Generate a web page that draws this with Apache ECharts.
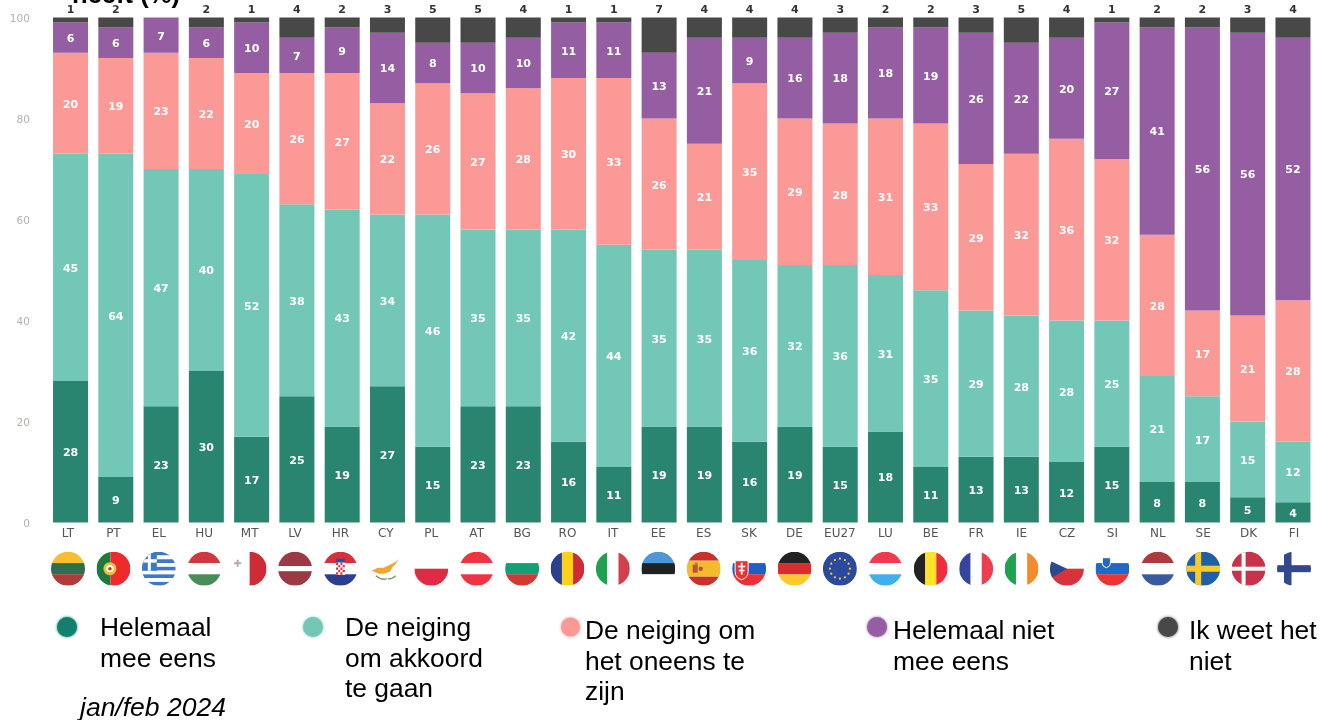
<!DOCTYPE html>
<html><head><meta charset="utf-8">
<style>html,body{margin:0;padding:0;background:#fff}#c{width:1320px;height:720px}</style>
<script src="https://cdn.jsdelivr.net/npm/echarts@6/dist/echarts.min.js"></script>
</head><body><div id="c"></div>
<script>
const categories = ['LT','PT','EL','HU','MT','LV','HR','CY','PL','AT','BG','RO','IT','EE','ES','SK','DE','EU27','LU','BE','FR','IE','CZ','SI','NL','SE','DK','FI'];
const helemaalEens = [28,9,23,30,17,25,19,27,15,23,23,16,11,19,19,16,19,15,18,11,13,13,12,15,8,8,5,4];
const neigingAkkoord = [45,64,47,40,52,38,43,34,46,35,35,42,44,35,35,36,32,36,31,35,29,28,28,25,21,17,15,12];
const neigingOneens = [20,19,23,22,20,26,27,22,26,27,28,30,33,26,21,35,29,28,31,33,29,32,36,32,28,17,21,28];
const helemaalNiet = [6,6,7,6,10,7,9,14,8,10,10,11,11,13,21,9,16,18,18,19,26,22,20,27,41,56,56,52];
const weetNiet = [1,2,0,2,1,4,2,3,5,5,4,1,1,7,4,4,4,3,2,2,3,5,4,1,2,2,3,4];
const seriesNames = ['Helemaal mee eens','De neiging om akkoord te gaan','De neiging om het oneens te zijn','Helemaal niet mee eens','Ik weet het niet'];
const seriesLines = [['Helemaal','mee eens'],['De neiging','om akkoord','te gaan'],['De neiging om','het oneens te','zijn'],['Helemaal niet','mee eens'],['Ik weet het','niet']];
const yTicks = [0,20,40,60,80,100];
const titleText = 'heeft (%)';
const dateText = 'jan/feb 2024';

const colors = ['#2a8570','#73c7b7','#fb9996','#955ea3','#484848'];
const legendDots = ['#12806c','#73c7b7','#fb9996','#955ea3','#484848'];

/* Flags, drawn as small round SVG images */
const wrap = s => 'image://data:image/svg+xml;charset=utf-8,' + encodeURIComponent(
  '<svg xmlns="http://www.w3.org/2000/svg" width="68" height="68" viewBox="0 0 34 34"><defs><clipPath id="c"><circle cx="17" cy="17" r="17"/></clipPath></defs><g clip-path="url(#c)">' + s + '</g></svg>');
const R = (x,y,w,h,f) => `<rect x="${x}" y="${y}" width="${w}" height="${h}" fill="${f}"/>`;
const H = (a,b,c,e='') => wrap(R(0,0,34,11.6,a)+R(0,11.4,34,11.4,b)+R(0,22.6,34,11.4,c)+e);
const V = (a,b,c,e='') => wrap(R(0,0,11.6,34,a)+R(11.4,0,11.4,34,b)+R(22.6,0,11.4,34,c)+e);
const W = '#ffffff';
const starRing = [0,30,60,90,120,150,180,210,240,270,300,330].map(d => {
  const a = d*Math.PI/180;
  return `<circle cx="${17+10*Math.cos(a)}" cy="${17+10*Math.sin(a)}" r="1.1" fill="#f5d33a"/>`;
}).join('');
let greekStripes = '';
for (let i = 0; i < 9; i++) greekStripes += R(0, i*34/9, 34, 34/9, i%2 ? W : '#3f78c4');
let crChecks = '';
for (let r = 0; r < 5; r++) for (let q = 0; q < 4; q++) crChecks += R(12.6+q*2.2, 11+r*2.4, 2.2, 2.4, (r+q)%2 ? W : '#d8303a');
const flags = {
  LT: H('#f9bd2f','#2d6e50','#b23a3a'),
  PT: wrap(R(0,0,14,34,'#1e7a3c')+R(14,0,20,34,'#ee2b2b')+'<circle cx="13.5" cy="17" r="6.5" fill="#e8c23a"/><circle cx="13.5" cy="17" r="3.6" fill="#ffffff"/><circle cx="13.5" cy="17" r="1.8" fill="#c8312c"/>'),
  EL: wrap(greekStripes+R(0,0,15,19,'#3f78c4')+R(6,0,3,19,W)+R(0,7.5,15,3.4,W)),
  HU: H('#d0383d',W,'#4a8c57'),
  MT: wrap(R(0,0,17,34,W)+R(17,0,17,34,'#ce2b37')+R(4,8,2,7,'#b9a9a9')+R(1.5,10.5,7,2,'#b9a9a9')),
  LV: wrap(R(0,0,34,14.5,'#9b3a45')+R(0,14.5,34,5,W)+R(0,19.5,34,14.5,'#9b3a45')),
  HR: H('#d8303a',W,'#2a3f8f',R(12.6,7,8.8,4,'#2a4f9f')+R(12.6,11,8.8,12,W)+crChecks),
  CY: wrap(R(0,0,34,34,W)+'<path d="M3 19 L9 16 L15 16 L21 13 L27 10 L30 7 L27 12 L24 15 L21 20 L15 22 L10 22 Z" fill="#f0a632"/><path d="M7 24 Q13 29 18 27" stroke="#7a9a5a" stroke-width="1.3" fill="none"/><path d="M27 24 Q22 28 19 27" stroke="#7a9a5a" stroke-width="1.3" fill="none"/>'),
  PL: wrap(R(0,0,34,17,W)+R(0,17,34,17,'#e12b46')),
  AT: H('#ef3340',W,'#ef3340'),
  BG: H(W,'#13a077','#d03a32'),
  RO: V('#2c3f8f','#fcd116','#ce2b37'),
  IT: V('#1ea24f',W,'#d2404d'),
  EE: H('#4f96d8','#222222',W),
  ES: wrap(R(0,0,34,9,'#c8312c')+R(0,9,34,16,'#f5bb2f')+R(0,25,34,9,'#c8312c')+R(6,13,5,8,'#b5533a')+R(8,11,3,2,'#a5842a')+'<circle cx="14" cy="17" r="2.2" fill="#b5533a"/>'),
  SK: wrap(R(0,0,34,11.6,W)+R(0,11.4,34,11.4,'#1f5fc4')+R(0,22.6,34,11.4,'#ee3033')+'<path d="M3 9 H16 V20 Q16 26 9.5 28 Q3 26 3 20 Z" fill="#ee3033" stroke="#ffffff" stroke-width="1"/>'+R(8.7,11,1.8,12,W)+R(6,14,7.2,1.6,W)+R(6.8,18,5.6,1.6,W)),
  DE: H('#222222','#dd2c2c','#fdc92f'),
  EU27: wrap(R(0,0,34,34,'#2b4a9f')+starRing),
  LU: H('#ef3b4d',W,'#3fb0ea'),
  BE: V('#222222','#fde12d','#ee2e3f'),
  FR: V('#35459e',W,'#ef3d4f'),
  IE: V('#1ea24f',W,'#f58a2c'),
  CZ: wrap(R(0,0,34,17,W)+R(0,17,34,17,'#d8323a')+'<path d="M0 9 L17 17 L0 27 Z" fill="#2a4a8f"/>'),
  SI: wrap(R(0,0,34,11.6,W)+R(0,11.4,34,11.4,'#1e6ac6')+R(0,22.6,34,11.4,'#ee3333')+'<path d="M7 6 H15 V12 Q15 15 11 16 Q7 15 7 12 Z" fill="#1e6ac6" stroke="#ffffff" stroke-width="1"/>'),
  NL: H('#ae3a3f',W,'#3a5aa0'),
  SE: wrap(R(0,0,34,34,'#1e5fa8')+R(9,0,6,34,'#fcc92b')+R(0,14,34,6,'#fcc92b')),
  DK: wrap(R(0,0,34,34,'#c8324a')+R(10,0,4,34,W)+R(0,15,34,4,W)),
  FI: wrap(R(0,0,34,34,W)+R(7,0,7.5,34,'#33478f')+R(0,13.5,34,7,'#33478f'))
};

const values = [helemaalEens, neigingAkkoord, neigingOneens, helemaalNiet, weetNiet];
const FONT = 'DejaVu Sans';
const LFONT = 'Liberation Sans';

const barSeries = seriesNames.map((name, i) => ({
  name, type: 'bar', stack: 'total', xAxisIndex: 0, yAxisIndex: 0,
  barWidth: 35, data: values[i], itemStyle: {color: colors[i]},
  label: i < 4
    ? {show: true, position: 'inside', offset: [0, 1.5], color: '#fff', fontFamily: FONT, fontWeight: 'bold', fontSize: 11}
    : {show: true, position: 'top', distance: 2, color: '#333', fontFamily: FONT, fontWeight: 'bold', fontSize: 11,
       formatter: p => p.value ? String(p.value) : ''},
  z: 2
}));

const lineH = 30.5;
const legendBoxes = [
  {left: 57, width: 56, dotY: 627, shift: 2},
  {left: 303, width: 54, dotY: 627, shift: 2},
  {left: 561, width: 19, dotY: 627, shift: 5},
  {left: 867, width: 22, dotY: 627, shift: 5},
  {left: 1158, width: 32, dotY: 627, shift: 5}
];
const legends = legendBoxes.map((b, i) => {
  const n = seriesLines[i].length;
  const blank = (n - 1) * lineH + 2 * b.shift;
  return {
    show: true, data: [seriesNames[i]], selectedMode: false, orient: 'vertical',
    left: b.left, top: b.dotY - (blank + n * lineH) / 2,
    padding: 0, itemWidth: b.width, itemHeight: 20, icon: 'circle',
    itemStyle: {color: legendDots[i], shadowBlur: 3, shadowColor: legendDots[i]},
    formatter: () => '{b| }\n' + seriesLines[i].map(t => '{t|' + t + '}').join('\n'),
    textStyle: {rich: {
      b: {lineHeight: blank, height: blank, fontSize: 1},
      t: {fontFamily: LFONT, fontSize: 26.4, lineHeight: lineH, color: '#000'}
    }}
  };
});

const chart = echarts.init(document.getElementById('c'), null, {renderer: 'canvas'});
chart.setOption({
  animation: false,
  backgroundColor: '#fff',
  title: {text: titleText, left: 72, top: -17, padding: 0, z: 1,
    textStyle: {fontFamily: LFONT, fontWeight: 'bold', fontSize: 25.6, color: '#000'}},
  graphic: [{type: 'text', left: 80, top: 695, style: {text: dateText, fontFamily: LFONT, fontStyle: 'italic', fontSize: 26.5, fill: '#000'}}],
  legend: legends,
  grid: [
    {left: 47.9, width: 1267.7, top: 17.5, height: 505},
    {left: 45.3, width: 1271.4, top: 541, height: 55.4}
  ],
  xAxis: [
    {type: 'category', gridIndex: 0, data: categories, axisLine: {show: false}, axisTick: {show: false}, axisLabel: {show: false}},
    {type: 'category', gridIndex: 1, position: 'top', data: categories, axisLine: {show: false}, axisTick: {show: false},
     axisLabel: {interval: 0, margin: 1, color: '#555', fontFamily: FONT, fontSize: 12}}
  ],
  yAxis: [
    {type: 'value', gridIndex: 0, min: 0, max: 100, interval: 20, axisLine: {show: false}, axisTick: {show: false}, splitLine: {show: false},
     axisLabel: {margin: 18, formatter: v => yTicks.includes(v) ? '{a|' + v + '}' : '',
       rich: {a: {padding: [4, 0, 0, 0], color: '#b8b0ab', fontFamily: FONT, fontSize: 10.5}}}},
    {type: 'value', gridIndex: 1, min: 0, max: 2, show: false}
  ],
  series: barSeries.concat([{
    type: 'scatter', xAxisIndex: 1, yAxisIndex: 1, symbolSize: 34, silent: true,
    itemStyle: {opacity: 1},
    data: categories.map(c => ({name: c, value: [c, 1], symbol: flags[c]}))
  }])
});
</script></body></html>
